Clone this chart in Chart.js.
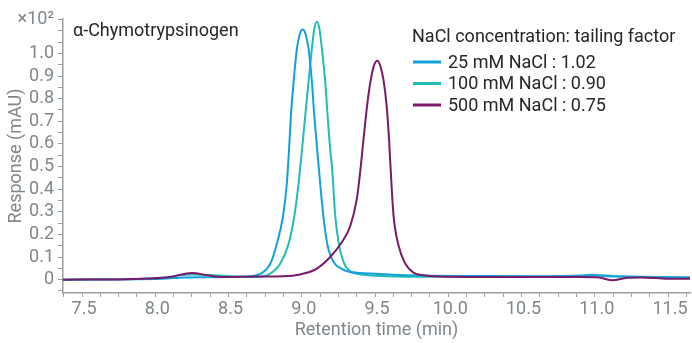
<!DOCTYPE html>
<html>
<head>
<meta charset="utf-8">
<script src="https://cdn.jsdelivr.net/npm/chart.js@4"></script>
<style>
  html, body { margin: 0; padding: 0; background: #fff; }
  #wrap { width: 692px; height: 343px; }
</style>
</head>
<body>
<div id="wrap"><canvas id="myChart" width="692" height="343"></canvas></div>
<script>
// values, response in units of 10^2 mAU
var time25 = [7.37, 7.80, 8.05, 8.20, 8.35, 8.50, 8.626, 8.716, 8.785, 8.826, 8.871, 8.898, 8.913, 8.926, 8.944, 8.967, 8.986, 9.006, 9.026, 9.046, 9.069, 9.085, 9.105, 9.126, 9.151, 9.176, 9.201, 9.226, 9.266, 9.316, 9.466, 9.816, 10.2, 10.6, 10.9, 10.98, 11.06, 11.3, 11.65];
var resp25 = [0, 0.002, 0.004, 0.010, 0.011, 0.012, 0.014, 0.025, 0.070, 0.150, 0.277, 0.425, 0.576, 0.727, 0.874, 1.022, 1.085, 1.106, 1.085, 1.022, 0.874, 0.727, 0.576, 0.421, 0.260, 0.150, 0.100, 0.070, 0.050, 0.036, 0.027, 0.018, 0.016, 0.015, 0.018, 0.022, 0.016, 0.013, 0.010];

var time100 = [7.37, 7.80, 8.00, 8.10, 8.15, 8.25, 8.40, 8.55, 8.70, 8.785, 8.853, 8.910, 8.948, 8.978, 9.001, 9.024, 9.046, 9.069, 9.086, 9.103, 9.120, 9.137, 9.160, 9.176, 9.194, 9.206, 9.228, 9.251, 9.285, 9.331, 9.422, 9.816, 10.2, 10.6, 10.95, 11.05, 11.2, 11.65];
var resp100 = [0, 0.002, 0.006, 0.012, 0.018, 0.023, 0.020, 0.014, 0.012, 0.027, 0.071, 0.159, 0.277, 0.425, 0.572, 0.727, 0.874, 1.022, 1.110, 1.140, 1.110, 1.022, 0.874, 0.727, 0.575, 0.500, 0.285, 0.166, 0.078, 0.037, 0.022, 0.013, 0.014, 0.013, 0.016, 0.019, 0.013, 0.010];

var time500 = [7.37, 7.75, 7.95, 8.10, 8.25, 8.36, 8.46, 8.70, 8.876, 8.989, 9.103, 9.194, 9.274, 9.331, 9.376, 9.400, 9.422, 9.446, 9.470, 9.492, 9.517, 9.538, 9.558, 9.580, 9.596, 9.606, 9.626, 9.660, 9.706, 9.762, 9.830, 10.0, 10.3, 10.6, 10.9, 11.02, 11.12, 11.22, 11.32, 11.5, 11.65];
var resp500 = [0, 0.001, 0.005, 0.012, 0.029, 0.019, 0.012, 0.014, 0.015, 0.023, 0.049, 0.100, 0.166, 0.237, 0.358, 0.484, 0.625, 0.770, 0.880, 0.945, 0.967, 0.940, 0.882, 0.764, 0.616, 0.495, 0.285, 0.152, 0.071, 0.031, 0.019, 0.013, 0.012, 0.012, 0.012, 0.011, -0.003, 0.008, 0.010, 0.004, 0.004];

var seriesLabels = ['25 mM NaCl : 1.02', '100 mM NaCl : 0.90', '500 mM NaCl : 0.75'];
var seriesColors = ['#12a0e0', '#22bdb2', '#7a1a68'];

var xTicks = [];
for (var v = 7.375; v <= 11.65; v += 0.125) xTicks.push(Math.round(v * 1000) / 1000);
var yTicks = [];
for (var k = -1; k <= 23; k++) yTicks.push(Math.round(k * 5) / 100);

function points(t, r) {
    return t.map(function (x, i) { return { x: x, y: r[i] }; });
}

var tickGray = '#7f878d';
var axisGray = '#9a9fa3';

var textPlugin = {
    id: 'texts',
    afterDraw: function (chart) {
        var ctx = chart.ctx;
        ctx.save();
        ctx.font = '18px Roboto';
        ctx.fillStyle = '#262626';
        ctx.textBaseline = 'middle';
        ctx.textAlign = 'left';
        ctx.fillText('α-Chymotrypsinogen', 73, 31);
        ctx.fillText('NaCl concentration: tailing factor', 412, 37);
        chart.data.datasets.forEach(function (ds, i) {
            var y = 62 + i * 21.5;
            ctx.strokeStyle = ds.borderColor;
            ctx.lineWidth = 3;
            ctx.beginPath();
            ctx.moveTo(413, y);
            ctx.lineTo(441, y);
            ctx.stroke();
            ctx.fillText(ds.label, 448, y + 1);
        });
        ctx.restore();
    }
};

var myChart = new Chart(document.getElementById('myChart'), {
    type: 'line',
    data: {
        datasets: [{
            label: seriesLabels[0],
            borderColor: seriesColors[0],
            data: points(time25, resp25),
            order: 1
        }, {
            label: seriesLabels[1],
            borderColor: seriesColors[1],
            data: points(time100, resp100),
            order: 2
        }, {
            label: seriesLabels[2],
            borderColor: seriesColors[2],
            data: points(time500, resp500),
            order: 0
        }]
    },
    options: {
        responsive: false,
        animation: false,
        elements: {
            line: { borderWidth: 2, fill: false, cubicInterpolationMode: 'monotone' },
            point: { radius: 0 }
        },
        layout: {
            autoPadding: false,
            padding: { top: 19, right: 2, left: 0, bottom: 0 }
        },
        plugins: {
            legend: { display: false },
            tooltip: { enabled: false }
        },
        scales: {
            x: {
                type: 'linear',
                min: 7.37,
                max: 11.65,
                afterBuildTicks: function (scale) {
                    scale.ticks = xTicks.map(function (v) { return { value: v }; });
                },
                afterFit: function (scale) { scale.height = 50; },
                ticks: {
                    autoSkip: false,
                    maxRotation: 0,
                    color: tickGray,
                    font: { family: 'Roboto', size: 18 },
                    padding: 2,
                    labelOffset: 2,
                    callback: function (value) {
                        return Math.abs(value * 2 - Math.round(value * 2)) < 1e-6 ? value.toFixed(1) : '';
                    }
                },
                grid: { drawOnChartArea: false, tickLength: 4, tickColor: axisGray },
                border: { color: axisGray, width: 1.5 },
                title: {
                    display: true,
                    text: 'Retention time (min)',
                    color: tickGray,
                    font: { family: 'Roboto', size: 18 },
                    padding: { top: 2, bottom: 2 }
                }
            },
            y: {
                min: -0.059,
                max: 1.152,
                afterBuildTicks: function (scale) {
                    scale.ticks = yTicks.map(function (v) { return { value: v }; });
                },
                afterFit: function (scale) { scale.width = 63; },
                ticks: {
                    autoSkip: false,
                    color: tickGray,
                    padding: 4,
                    font: { family: 'Roboto', size: 18 },
                    callback: function (value) {
                        if (Math.abs(value - 1.15) < 1e-6) return '×10²';
                        if (Math.abs(value) < 1e-6) return '0';
                        if (value > 0 && value < 1.01 && Math.abs(value * 10 - Math.round(value * 10)) < 1e-6) return value.toFixed(1);
                        return '';
                    }
                },
                grid: { drawOnChartArea: false, tickLength: 5, tickColor: axisGray },
                border: { color: axisGray, width: 1.5 },
                title: {
                    display: true,
                    text: 'Response (mAU)',
                    color: tickGray,
                    font: { family: 'Roboto', size: 18 },
                    padding: { top: 6, bottom: 4 }
                }
            }
        }
    },
    plugins: [textPlugin]
});
</script>
</body>
</html>
